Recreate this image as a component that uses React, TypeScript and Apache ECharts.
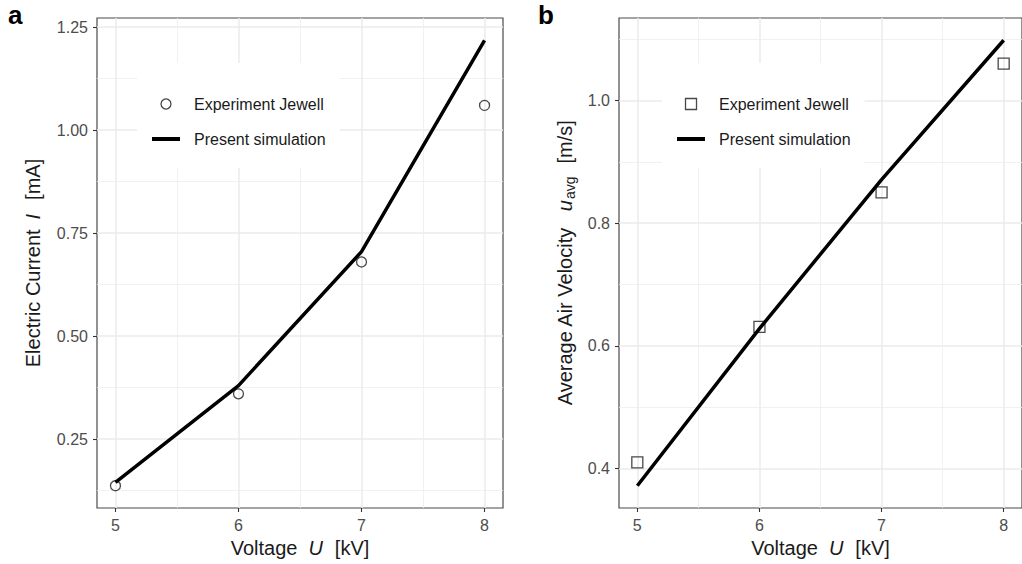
import React, { useEffect, useRef } from "react";
import * as echarts from "echarts";

// Applied voltage [kV]
const voltage = [5, 6, 7, 8];

// Panel a: electric current [mA]
const currentExperiment = [0.137, 0.36, 0.68, 1.06];
const currentSimulation = [0.145, 0.38, 0.705, 1.218];

// Panel b: average air velocity [m/s]
const velocityExperiment = [0.41, 0.631, 0.85, 1.06];
const velocitySimulation = [0.372, 0.628, 0.871, 1.098];

// Tick positions
const voltageTicks = [5, 6, 7, 8];
const voltageMinor = [5.5, 6.5, 7.5];
const currentTicks = [0.25, 0.5, 0.75, 1.0, 1.25];
const currentMinor = [0.125, 0.375, 0.625, 0.875, 1.125];
const velocityTicks = [0.4, 0.6, 0.8, 1.0];
const velocityMinor = [0.3, 0.5, 0.7, 0.9, 1.1];

const FONT = "'Liberation Sans', Arial, Helvetica, sans-serif";
const EXP_NAME = "Experiment Jewell";
const SIM_NAME = "Present simulation";

// 5 % padding on each side of the data range
function expand(values: number[]): [number, number] {
  const lo = Math.min(...values);
  const hi = Math.max(...values);
  const pad = (hi - lo) * 0.05;
  return [lo - pad, hi + pad];
}

function inside(values: number[], range: [number, number]) {
  return values.filter((v) => v > range[0] && v < range[1]);
}

const zip = (xs: number[], ys: number[]) => xs.map((x, i) => [x, ys[i]]);

const nameRich = {
  n: { fontSize: 20, fontFamily: FONT, color: "#1a1a1a" },
  i: { fontSize: 20, fontFamily: FONT, color: "#1a1a1a", fontStyle: "italic" },
};

function majorAxis(
  gridIndex: number,
  range: [number, number],
  ticks: number[],
  fmt: (v: number) => string,
  extra: any
) {
  return {
    type: "value",
    gridIndex,
    min: range[0],
    max: range[1],
    axisLine: { show: false },
    axisTick: {
      show: true,
      length: 4,
      customValues: ticks,
      lineStyle: { color: "#333333", width: 1.1 },
    },
    axisLabel: {
      customValues: ticks,
      formatter: (v: number) => fmt(v),
      color: "#4d4d4d",
      fontSize: 16,
      fontFamily: FONT,
      margin: 9,
    },
    splitLine: { show: true, lineStyle: { color: "#ebebeb", width: 1.5 } },
    ...extra,
  };
}

function minorAxis(gridIndex: number, range: [number, number], ticks: number[]) {
  return {
    type: "value",
    gridIndex,
    min: range[0],
    max: range[1],
    axisLine: { show: false },
    axisTick: { show: false, customValues: inside(ticks, range) },
    axisLabel: { show: false },
    splitLine: { show: true, lineStyle: { color: "#ededed", width: 0.8 } },
  };
}

// Thick horizontal bar used as the key of the simulation line
const LINE_KEY = "path://M0,0H28V4H0Z";

function legendFor(left: number, icon: string | null, itemHeight: number) {
  return {
    orient: "vertical",
    left,
    top: 63,
    backgroundColor: "#ffffff",
    padding: [33, 14, 21, 15],
    itemGap: 19,
    itemWidth: 28,
    itemHeight,
    selectedMode: false,
    itemStyle: { borderWidth: 1.3 },
    textStyle: {
      fontSize: 16,
      fontFamily: FONT,
      color: "#1a1a1a",
      lineHeight: 16,
      padding: [0, 0, 0, 9],
    },
    data: [
      icon ? { name: EXP_NAME, icon } : { name: EXP_NAME },
      { name: SIM_NAME, icon: LINE_KEY, itemStyle: { color: "#000000", borderWidth: 0 } },
    ],
  };
}

export default function App() {
  const ref = useRef<HTMLDivElement>(null);

  useEffect(() => {
    if (!ref.current) return;
    const chart = echarts.init(ref.current, null, { renderer: "svg" });

    const xRange = expand(voltage);
    const currentRange = expand([...currentExperiment, ...currentSimulation]);
    const velocityRange = expand([...velocityExperiment, ...velocitySimulation]);

    const xName = {
      position: "bottom",
      name: "{n|Voltage}{i|U}{n|[kV]}",
      nameLocation: "middle",
      nameGap: 30,
      nameTextStyle: { rich: { ...nameRich, i: { ...nameRich.i, padding: [0, 12, 0, 11] } } },
    };

    chart.setOption({
      animation: false,
      backgroundColor: "#ffffff",
      textStyle: { fontFamily: FONT },
      grid: [
        {
          left: 97,
          top: 18,
          width: 406,
          height: 490,
          show: true,
          borderColor: "#4a4a4a",
          borderWidth: 1.2,
          backgroundColor: "#ffffff",
        },
        {
          left: 619,
          top: 18,
          width: 413,
          height: 490,
          show: true,
          borderColor: "#4a4a4a",
          borderWidth: 1.2,
          backgroundColor: "#ffffff",
        },
      ],
      xAxis: [
        majorAxis(0, xRange, voltageTicks, (v) => String(v), xName),
        minorAxis(0, xRange, voltageMinor),
        majorAxis(1, xRange, voltageTicks, (v) => String(v), xName),
        minorAxis(1, xRange, voltageMinor),
      ],
      yAxis: [
        majorAxis(0, currentRange, currentTicks, (v) => v.toFixed(2), {
          position: "left",
          name: "{n|Electric Current}{i|I}{n|[mA]}",
          nameLocation: "middle",
          nameGap: 54,
          nameTextStyle: { rich: { ...nameRich, i: { ...nameRich.i, padding: [0, 14, 0, 10] } } },
        }),
        minorAxis(0, currentRange, currentMinor),
        majorAxis(1, velocityRange, velocityTicks, (v) => v.toFixed(1), {
          position: "left",
          name: "{n|Average Air Velocity}{i|u}{s|avg}{n|[m/s]}",
          nameLocation: "middle",
          nameGap: 42,
          nameTextStyle: {
            rich: {
              n: { ...nameRich.n, lineHeight: 24, verticalAlign: "middle" },
              i: { ...nameRich.i, lineHeight: 24, padding: [0, 0, 0, 16], verticalAlign: "middle" },
              s: {
                fontSize: 14,
                fontFamily: FONT,
                color: "#1a1a1a",
                lineHeight: 14,
                verticalAlign: "bottom",
                padding: [0, 13, 0, 1],
              },
            },
          },
        }),
        minorAxis(1, velocityRange, velocityMinor),
      ],
      legend: [legendFor(137, null, 10), legendFor(662, "path://M0,0H11V11H0Z", 11)],
      series: [
        {
          name: EXP_NAME,
          type: "scatter",
          xAxisIndex: 0,
          yAxisIndex: 0,
          data: zip(voltage, currentExperiment),
          symbol: "circle",
          symbolSize: 10,
          itemStyle: { color: "rgba(255,255,255,0)", borderColor: "#1a1a1a", borderWidth: 1.3 },
          z: 2,
        },
        {
          name: SIM_NAME,
          type: "line",
          xAxisIndex: 0,
          yAxisIndex: 0,
          data: zip(voltage, currentSimulation),
          symbol: "none",
          lineStyle: { color: "#000000", width: 3.5 },
          itemStyle: { color: "#000000" },
          z: 3,
        },
        {
          name: EXP_NAME,
          type: "scatter",
          xAxisIndex: 2,
          yAxisIndex: 2,
          data: zip(voltage, velocityExperiment),
          symbol: "rect",
          symbolSize: 11,
          itemStyle: { color: "rgba(255,255,255,0)", borderColor: "#1a1a1a", borderWidth: 1.3 },
          z: 2,
        },
        {
          name: SIM_NAME,
          type: "line",
          xAxisIndex: 2,
          yAxisIndex: 2,
          data: zip(voltage, velocitySimulation),
          symbol: "none",
          lineStyle: { color: "#000000", width: 3.5 },
          itemStyle: { color: "#000000" },
          z: 3,
        },
      ],
      graphic: [
        {
          type: "text",
          left: 8,
          top: 2,
          style: { text: "a", font: `bold 26px ${FONT}`, fill: "#000000" },
        },
        {
          type: "text",
          left: 538,
          top: 2,
          style: { text: "b", font: `bold 26px ${FONT}`, fill: "#000000" },
        },
      ],
    });

    return () => chart.dispose();
  }, []);

  return (
    <div
      ref={ref}
      style={{ position: "fixed", left: 0, top: 0, width: 1022, height: 564, background: "#fff" }}
    />
  );
}
